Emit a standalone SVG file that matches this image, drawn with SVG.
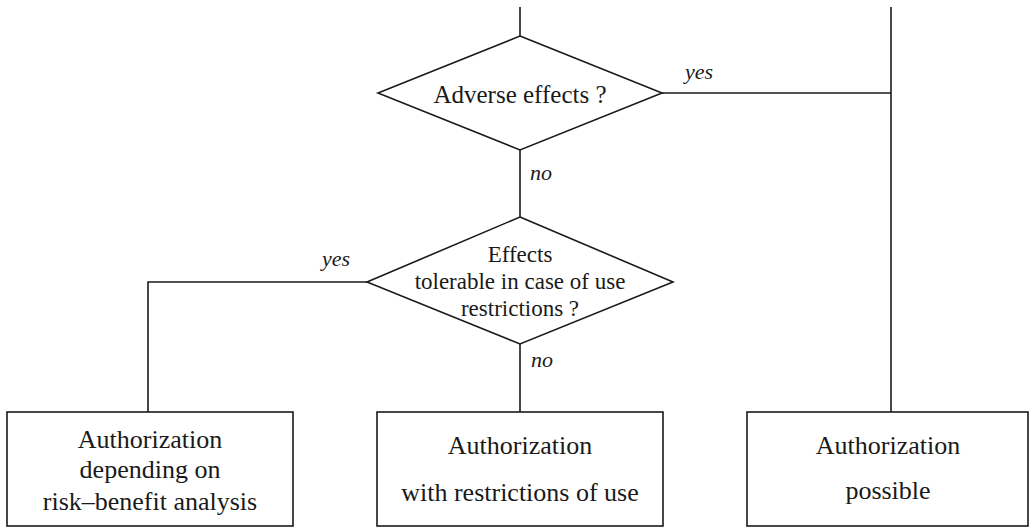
<svg xmlns="http://www.w3.org/2000/svg" width="1033" height="528" viewBox="0 0 1033 528">
  <style>
    .shape { fill: #ffffff; stroke: #1a1a1a; stroke-width: 1.6; }
    .edge { fill: none; stroke: #1a1a1a; stroke-width: 1.6; }
    .txt { fill: #1a1a1a; text-anchor: middle; }
    .q1 { font-size: 25px; }
    .q2 { font-size: 23px; }
    .box { font-size: 26px; }
    .lbl { font-style: italic; font-size: 22px; fill: #1a1a1a; }
  </style>
  <rect width="1033" height="528" fill="#ffffff"/>

  <g font-family="Liberation Serif, Times New Roman, DejaVu Serif, serif">
  <g id="connectors">
    <!-- incoming flows from above -->
    <line class="edge" x1="520" y1="7" x2="520" y2="36"/>
    <line class="edge" x1="891" y1="7" x2="891" y2="412"/>
    <!-- adverse effects: yes -> authorization possible -->
    <line class="edge" x1="662" y1="93" x2="891" y2="93"/>
    <!-- adverse effects: no -> second decision -->
    <line class="edge" x1="520" y1="150" x2="520" y2="217"/>
    <!-- tolerable: yes -> risk-benefit -->
    <polyline class="edge" points="367,282 148,282 148,412"/>
    <!-- tolerable: no -> restrictions of use -->
    <line class="edge" x1="520" y1="344" x2="520" y2="412"/>
    <text class="lbl" x="685" y="79">yes</text>
    <text class="lbl" x="530" y="180">no</text>
    <text class="lbl" x="322" y="266">yes</text>
    <text class="lbl" x="531" y="367">no</text>
  </g>

  <g id="decision-adverse">
    <polygon class="shape" points="520,36 662,93 520,150 378,93"/>
    <text class="txt q1" x="520" y="103">Adverse effects ?</text>
  </g>

  <g id="decision-tolerable">
    <polygon class="shape" points="520,217 673,282 520,344 367,282"/>
    <text class="txt q2" x="520" y="262">Effects</text>
    <text class="txt q2" x="520" y="289">tolerable in case of use</text>
    <text class="txt q2" x="520" y="316">restrictions ?</text>
  </g>

  <g id="result-risk-benefit">
    <rect class="shape" x="7" y="412" width="286" height="114"/>
    <text class="txt box" x="150" y="448">Authorization</text>
    <text class="txt box" x="150" y="478">depending on</text>
    <text class="txt box" x="150" y="510">risk–benefit analysis</text>
  </g>

  <g id="result-restricted">
    <rect class="shape" x="377" y="412" width="286" height="114"/>
    <text class="txt box" x="520" y="454">Authorization</text>
    <text class="txt box" x="520" y="501">with restrictions of use</text>
  </g>

  <g id="result-possible">
    <rect class="shape" x="747" y="412" width="281" height="114"/>
    <text class="txt box" x="888" y="454">Authorization</text>
    <text class="txt box" x="888" y="499">possible</text>
  </g>
  </g>
</svg>
